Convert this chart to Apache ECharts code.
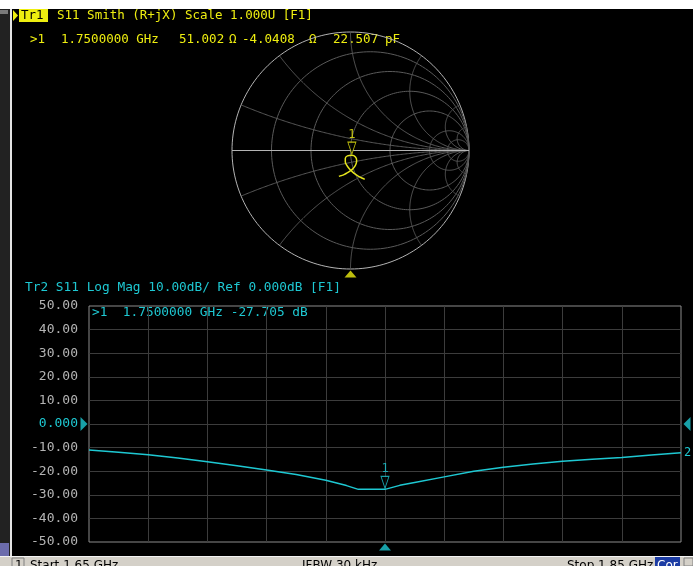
<!DOCTYPE html>
<html>
<head>
<meta charset="utf-8">
<script src="https://cdn.jsdelivr.net/npm/echarts@6/dist/echarts.min.js"></script>
<style>
  html, body { margin: 0; padding: 0; background: #000; }
  #chart { width: 693px; height: 566px; }
</style>
</head>
<body>
<div id="chart"></div>
<script>
// Tr2: S11 log magnitude over the sweep (GHz, dB)
const freqGHz = [1.65, 1.66, 1.67, 1.68, 1.69, 1.70, 1.71, 1.72, 1.73, 1.737, 1.741, 1.75,
  1.755, 1.76, 1.77, 1.78, 1.79, 1.80, 1.81, 1.82, 1.83, 1.84, 1.85]
const s11dB = [-11.0, -12.0, -13.0, -14.4, -16.0, -17.7, -19.5, -21.4, -23.8, -26.1, -27.7, -27.7,
  -26.0, -24.8, -22.4, -20.0, -18.3, -16.9, -15.8, -14.9, -14.2, -13.1, -12.2]

// Tr1: S11 on the Smith chart (reflection coefficient, real / imag)
const smithRe = [0.120, 0.095, 0.068, 0.040, 0.014, -0.012, -0.032, -0.044, -0.044, -0.026, 0.0115,
  0.042, 0.052, 0.044, 0.022, -0.008, -0.034, -0.055, -0.072, -0.086, -0.098]
const smithIm = [-0.242, -0.232, -0.218, -0.200, -0.178, -0.152, -0.124, -0.095, -0.067, -0.045, -0.0395,
  -0.054, -0.085, -0.120, -0.152, -0.176, -0.192, -0.203, -0.210, -0.214, -0.217]

// marker 1
const markerFreq = 1.75
const markerDB = -27.705
const markerR = 51.002
const markerX = -4.0408
const z0 = 50

// Smith grid
const resistanceCircles = [0, 0.2, 0.5, 1, 2, 5, 10]
const reactanceArcs = [0.2, 0.5, 1, 2, 5, 10]

const mono = 'DejaVu Sans Mono'
const yellow = '#eeee10'
const cyan = '#1ec8d2'

// marker reflection coefficient from its impedance
function gammaOf (r, x) {
  const a = r / z0, b = x / z0
  const den = (a + 1) * (a + 1) + b * b
  return [(a * a - 1 + b * b) / den, (2 * b) / den]
}
const markerGamma = gammaOf(markerR, markerX)

const smithGrid = []
resistanceCircles.forEach(r => smithGrid.push([0, r]))
reactanceArcs.forEach(x => { smithGrid.push([1, x]); smithGrid.push([1, -x]) })
smithGrid.push([2, 0])

function renderSmithGrid (params, api) {
  const kind = api.value(0)
  const v = api.value(1)
  const pts = []
  const N = 180
  if (kind === 0) {
    const c = v / (1 + v), rad = 1 / (1 + v)
    for (let i = 0; i <= N; i++) {
      const a = 2 * Math.PI * i / N
      pts.push(api.coord([c + rad * Math.cos(a), rad * Math.sin(a)]))
    }
  } else if (kind === 1) {
    for (let i = 0; i < N; i++) {
      const t = i / N
      const r = t / (1 - t)
      const den = (r + 1) * (r + 1) + v * v
      pts.push(api.coord([(r * r - 1 + v * v) / den, (2 * v) / den]))
    }
    pts.push(api.coord([1, 0]))
  } else {
    pts.push(api.coord([-1, 0]), api.coord([1, 0]))
  }
  const light = kind === 2 || (kind === 0 && v === 0)
  return {
    type: 'polyline',
    shape: { points: pts },
    style: { stroke: light ? '#b4b4b4' : '#5a5a5a', fill: null, lineWidth: 1 }
  }
}

function txt (x, y, text, color, font) {
  return {
    type: 'text', x: x, y: y,
    style: { text: text, fill: color, font: font || ('12.5px ' + mono), textVerticalAlign: 'middle', verticalAlign: 'middle' }
  }
}

const myChart = echarts.init(document.getElementById('chart'))

const option = {
  backgroundColor: '#000',
  animation: false,
  grid: [
    { left: 89, top: 306, width: 592, height: 236, show: true, borderColor: '#8c8c8c', borderWidth: 1, backgroundColor: 'transparent' },
    { left: 232, top: 32, width: 237, height: 237, show: false }
  ],
  xAxis: [
    { gridIndex: 0, type: 'value', min: 1.65, max: 1.85, show: false },
    {
      gridIndex: 0, type: 'value', min: 0, max: 10, interval: 1,
      axisLine: { show: false }, axisTick: { show: false }, axisLabel: { show: false },
      splitLine: { show: true, showMinLine: false, showMaxLine: false, lineStyle: { color: '#3c3c3c', width: 1 } }
    },
    { gridIndex: 1, type: 'value', min: -1, max: 1, show: false }
  ],
  yAxis: [
    {
      gridIndex: 0, type: 'value', min: -50, max: 50, interval: 10,
      axisLine: { show: false }, axisTick: { show: false },
      axisLabel: {
        margin: 11, color: '#b4b4b4', fontFamily: mono, fontSize: 13,
        formatter: v => v === 0 ? '{z|0.000}' : v.toFixed(2),
        rich: { z: { color: cyan, fontFamily: mono, fontSize: 13 } }
      },
      splitLine: { show: true, showMinLine: false, showMaxLine: false, lineStyle: { color: '#3c3c3c', width: 1 } }
    },
    { gridIndex: 1, type: 'value', min: -1, max: 1, show: false }
  ],
  series: [
    {
      name: 'smith grid', type: 'custom', xAxisIndex: 2, yAxisIndex: 1,
      renderItem: renderSmithGrid, data: smithGrid, silent: true, z: 1
    },
    {
      name: 'Tr1', type: 'line', xAxisIndex: 2, yAxisIndex: 1,
      data: smithRe.map((r, i) => [r, smithIm[i]]),
      smooth: 0.4, symbol: 'none', lineStyle: { color: '#e4e41c', width: 1.5 }, z: 3
    },
    {
      name: 'Tr1 marker', type: 'scatter', xAxisIndex: 2, yAxisIndex: 1,
      data: [markerGamma],
      symbol: 'path://M0,0 L10,0 L5,13 Z', symbolSize: [8, 12], symbolOffset: [0, -7],
      itemStyle: { color: '#000', borderColor: yellow, borderWidth: 1 },
      label: { show: true, position: 'top', distance: 1, formatter: '1', color: yellow, fontFamily: mono, fontSize: 12 },
      z: 4
    },
    {
      name: 'Tr1 stim', type: 'scatter', xAxisIndex: 2, yAxisIndex: 1,
      data: [[0, -1]],
      symbol: 'path://M6,0 L12,7 L0,7 Z', symbolSize: [12, 7], symbolOffset: [0, 5],
      itemStyle: { color: yellow }
    },
    {
      name: 'Tr2', type: 'line', xAxisIndex: 0, yAxisIndex: 0,
      data: freqGHz.map((f, i) => [f, s11dB[i]]),
      symbol: 'none', lineStyle: { color: cyan, width: 1.5 },
      endLabel: { show: true, formatter: '2', color: cyan, distance: 3, fontFamily: mono, fontSize: 12 },
      z: 3
    },
    {
      name: 'Tr2 marker', type: 'scatter', xAxisIndex: 0, yAxisIndex: 0,
      data: [[markerFreq, markerDB]],
      symbol: 'path://M0,0 L10,0 L5,13 Z', symbolSize: [8, 12], symbolOffset: [0, -7],
      itemStyle: { color: '#000', borderColor: cyan, borderWidth: 1 },
      label: { show: true, position: 'top', distance: 1, formatter: '1', color: cyan, fontFamily: mono, fontSize: 12 },
      z: 4
    },
    {
      name: 'Tr2 stim', type: 'scatter', xAxisIndex: 0, yAxisIndex: 0,
      data: [[markerFreq, -50]],
      symbol: 'path://M6,0 L12,7 L0,7 Z', symbolSize: [12, 7], symbolOffset: [0, 5],
      itemStyle: { color: cyan }
    },
    {
      name: 'ref left', type: 'scatter', xAxisIndex: 0, yAxisIndex: 0,
      data: [[1.65, 0]],
      symbol: 'path://M0,0 L8,7 L0,14 Z', symbolSize: [7, 14], symbolOffset: [-5, 0],
      itemStyle: { color: cyan }
    },
    {
      name: 'ref right', type: 'scatter', xAxisIndex: 0, yAxisIndex: 0,
      data: [[1.85, 0]],
      symbol: 'path://M8,0 L0,7 L8,14 Z', symbolSize: [7, 14], symbolOffset: [6, 0],
      itemStyle: { color: cyan }
    }
  ],
  graphic: [
    // window frame bits
    { type: 'rect', shape: { x: 0, y: 0, width: 693, height: 9 }, style: { fill: '#ffffff' } },
    { type: 'rect', shape: { x: 0, y: 9, width: 10, height: 547 }, style: { fill: '#222222' } },
    { type: 'rect', shape: { x: 0, y: 10, width: 8, height: 4 }, style: { fill: '#7a7a7a' } },
    { type: 'rect', shape: { x: 10, y: 9, width: 2, height: 547 }, style: { fill: '#e4e4e4' } },
    { type: 'rect', shape: { x: 0, y: 543, width: 9, height: 13 }, style: { fill: '#6c6cac' } },
    // status bar
    { type: 'rect', shape: { x: 0, y: 556, width: 693, height: 10 }, style: { fill: '#d4d0c8' } },
    { type: 'rect', shape: { x: 0, y: 556, width: 693, height: 1 }, style: { fill: '#f4f4f4' } },
    { type: 'rect', shape: { x: 12, y: 558, width: 12, height: 9 }, style: { fill: '#d4d0c8', stroke: '#808080', lineWidth: 1 } },
    { type: 'text', x: 15, y: 560, style: { text: '1', fill: '#000', font: '12px "DejaVu Sans"' } },
    { type: 'text', x: 30, y: 560, style: { text: 'Start 1.65 GHz', fill: '#000', font: '12px "DejaVu Sans"' } },
    { type: 'text', x: 302, y: 560, style: { text: 'IFBW 30 kHz', fill: '#000', font: '12px "DejaVu Sans"' } },
    { type: 'text', x: 567, y: 560, style: { text: 'Stop 1.85 GHz', fill: '#000', font: '12px "DejaVu Sans"' } },
    { type: 'rect', shape: { x: 655, y: 557, width: 25, height: 9 }, style: { fill: '#1c3ca4' } },
    { type: 'text', x: 657, y: 560, style: { text: 'Cor', fill: '#fff', font: '12px "DejaVu Sans"' } },
    { type: 'rect', shape: { x: 684, y: 558, width: 9, height: 8 }, style: { fill: '#d4d0c8', stroke: '#808080', lineWidth: 1 } },
    // Tr1 header
    { type: 'polygon', shape: { points: [[13, 10], [18, 15.5], [13, 21]] }, style: { fill: yellow } },
    { type: 'rect', shape: { x: 19, y: 9, width: 29, height: 13 }, style: { fill: yellow } },
    txt(21, 16, 'Tr1', '#000'),
    txt(57, 16, 'S11 Smith (R+jX) Scale 1.000U [F1]', yellow),
    txt(30, 40, '>1', yellow),
    txt(61, 40, '1.7500000 GHz', yellow),
    txt(179, 40, '51.002', yellow),
    txt(229, 40, 'Ω', yellow),
    txt(242, 40, '-4.0408', yellow),
    txt(309, 40, 'Ω', yellow),
    txt(333, 40, '22.507', yellow),
    txt(385, 40, 'pF', yellow),
    // Tr2 header
    txt(25, 288, 'Tr2 S11 Log Mag 10.00dB/ Ref 0.000dB [F1]', cyan, '12.8px ' + mono),
    txt(92, 313, '>1  1.7500000 GHz -27.705 dB', cyan, '12.8px ' + mono)
  ]
}

myChart.setOption(option)
</script>
</body>
</html>
